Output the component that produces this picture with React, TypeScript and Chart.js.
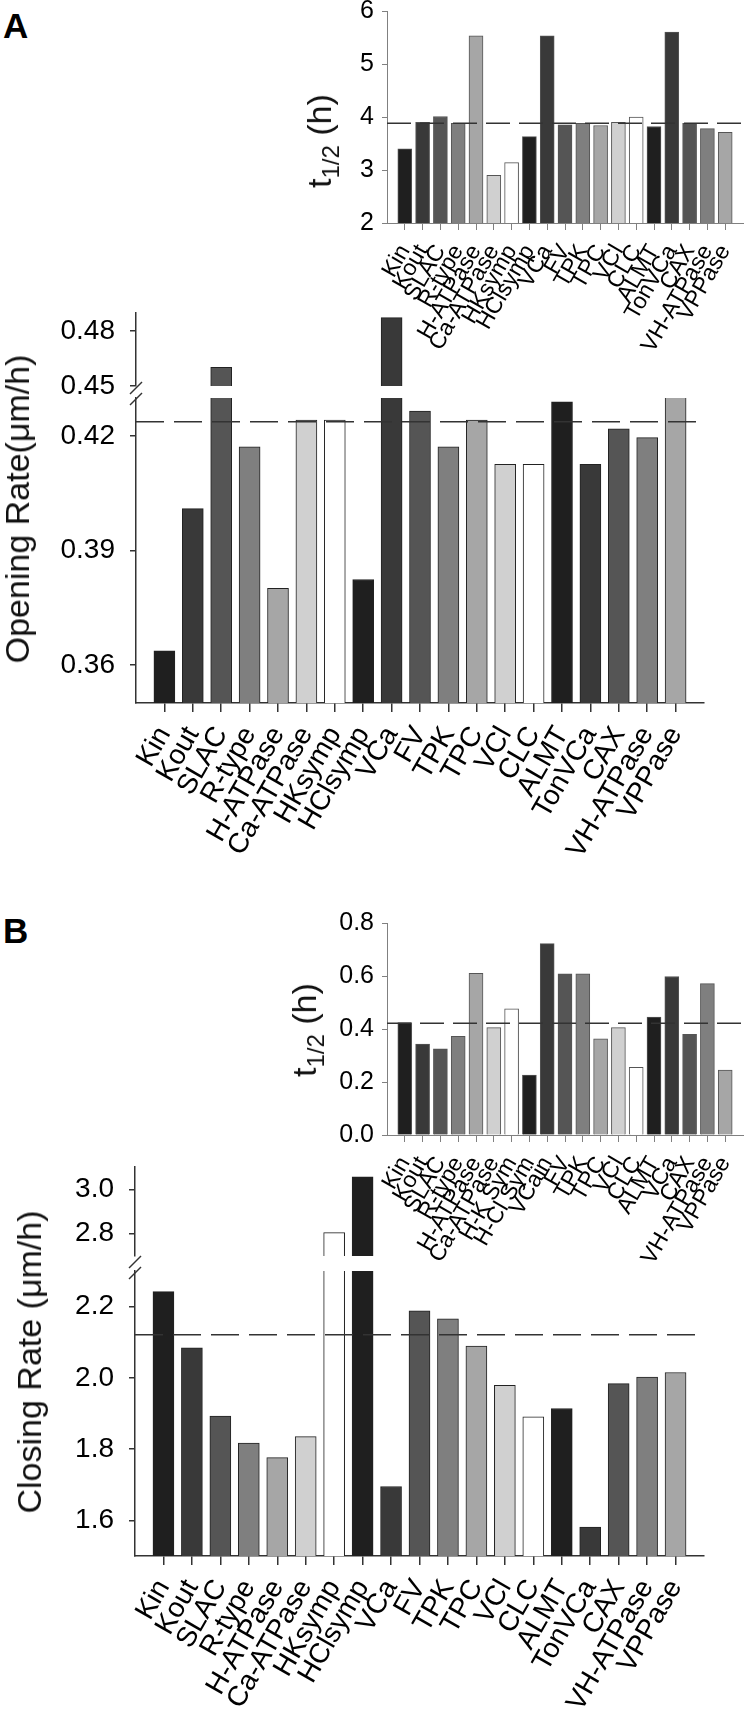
import React, { useEffect, useRef } from 'react';
import { Chart, registerables } from 'chart.js';

Chart.register(...registerables);

const FONT = "'Liberation Sans', Arial, Helvetica, sans-serif";

// ---------- data ----------
const channelLabels = ['Kin', 'Kout', 'SLAC', 'R-type', 'H-ATPase', 'Ca-ATPase', 'HKsymp', 'HClsymp', 'VCa', 'FV', 'TPK', 'TPC', 'VCl', 'CLC', 'ALMT', 'TonVCa', 'CAX', 'VH-ATPase', 'VPPase'];
const closingInsetLabels = ['Kin', 'Kout', 'SLAC', 'R-type', 'H-ATPase', 'Ca-ATPase', 'H-K Sym', 'H-Cl Sym', 'VCain', 'FV', 'TPK', 'TPC', 'VCl', 'CLC', 'ALMT', 'VCa', 'CAX', 'VH-ATPase', 'VPPase'];

const openingHalfTime = [3.40, 3.90, 4.01, 3.88, 5.53, 2.90, 3.14, 3.63, 5.53, 3.85, 3.88, 3.84, 3.90, 4.00, 3.82, 5.60, 3.88, 3.78, 3.71];
const openingHalfTimeMean = 3.88;
const openingHalfTimeTicks = [2, 3, 4, 5, 6];

const openingRate = [0.3637, 0.401, 0.4602, 0.4172, 0.3801, 0.4242, 0.4242, 0.3824, 0.4873, 0.4266, 0.4172, 0.4242, 0.4126, 0.4126, 0.429, 0.4126, 0.4219, 0.4196, 0.436];
const openingRateMean = 0.4238;
const openingRateUpperTicks = [0.45, 0.48];
const openingRateLowerTicks = [0.36, 0.39, 0.42];

const closingHalfTime = [0.424, 0.343, 0.325, 0.372, 0.61, 0.405, 0.476, 0.226, 0.722, 0.608, 0.608, 0.363, 0.405, 0.255, 0.445, 0.598, 0.38, 0.571, 0.245];
const closingHalfTimeMean = 0.422;
const closingHalfTimeTicks = [0, 0.2, 0.4, 0.6, 0.8];

const closingRate = [2.242, 2.084, 1.893, 1.817, 1.776, 1.835, 2.805, 3.056, 1.695, 2.188, 2.166, 2.089, 1.979, 1.891, 1.914, 1.581, 1.984, 2.002, 2.015];
const closingRateMean = 2.121;
const closingRateUpperTicks = [2.8, 3.0];
const closingRateLowerTicks = [1.6, 1.8, 2.0, 2.2];

const barShades = ['#1f1f1f', '#393939', '#555555', '#7f7f7f', '#a6a6a6', '#d0d0d0', '#ffffff'];

// ---------- plugins ----------
const meanLine = {
  id: 'meanLine',
  afterDatasetsDraw(chart: any, _a: any, opts: any) {
    if (opts == null || opts.value == null) return;
    const y = chart.scales.y.getPixelForValue(opts.value);
    const a = chart.chartArea;
    if (y < a.top || y > a.bottom) return;
    const ctx = chart.ctx;
    ctx.save();
    ctx.setLineDash(opts.dash || [20, 10]);
    ctx.strokeStyle = opts.color || '#333';
    ctx.lineWidth = opts.width || 1.5;
    ctx.beginPath();
    ctx.moveTo(a.left, y);
    ctx.lineTo(a.right - (opts.endInset || 0), y);
    ctx.stroke();
    ctx.restore();
  },
};

const axisBreak = {
  id: 'axisBreak',
  afterDraw(chart: any, _a: any, opts: any) {
    if (!opts || !opts.edge) return;
    const a = chart.chartArea;
    const cy = (opts.edge === 'bottom' ? a.bottom : a.top) + (opts.offset || 0);
    const ctx = chart.ctx;
    ctx.save();
    ctx.strokeStyle = opts.color || '#333';
    ctx.lineWidth = opts.width || 1.5;
    ctx.beginPath();
    ctx.moveTo(a.left - 6, cy + 6);
    ctx.lineTo(a.left + 6, cy - 6);
    ctx.stroke();
    ctx.restore();
  },
};

type Spec = {
  labels: string[];
  values: number[];
  mean?: number;
  min: number;
  max: number;
  ticks: number[];
  decimals: number;
  padTop: number;
  padRight: number;
  padBottom: number;
  yWidth: number;
  xHeight: number;
  showX: boolean;
  barThickness: number;
  barBorder: string;
  axisColor: string;
  axisWidth: number;
  yFont: number;
  xFont: number;
  yTickLen: number;
  yTickPad: number;
  xTickLen: number;
  xTickPad: number;
  dash: number[];
  dashWidth: number;
  dashEndInset: number;
  breakEdge?: 'top' | 'bottom';
  breakOffset?: number;
};

function makeChart(canvas: HTMLCanvasElement, s: Spec) {
  const n = s.labels.length;
  const labels = ['', ...s.labels, ''];
  const data = [null, ...s.values, null];
  const fills = labels.map((_, i) => (i === 0 || i === n + 1 ? 'rgba(0,0,0,0)' : barShades[(i - 1) % barShades.length]));
  const hideEnds = (c: any) => (c.index === 0 || c.index === n + 1 ? 'rgba(0,0,0,0)' : s.axisColor);
  return new Chart(canvas, {
    type: 'bar',
    data: {
      labels,
      datasets: [
        {
          data,
          backgroundColor: fills,
          borderColor: s.barBorder,
          borderWidth: 1,
          barThickness: s.barThickness,
          clip: 0,
        } as any,
      ],
    },
    options: {
      animation: false,
      responsive: false,
      devicePixelRatio: 1,
      events: [],
      layout: { padding: { left: 0, top: s.padTop, right: s.padRight, bottom: s.padBottom } },
      plugins: {
        legend: { display: false },
        tooltip: { enabled: false },
        meanLine: { value: s.mean, dash: s.dash, width: s.dashWidth, color: '#333', endInset: s.dashEndInset },
        axisBreak: { edge: s.breakEdge, offset: s.breakOffset, color: '#333', width: 1.5 },
      } as any,
      scales: {
        x: {
          type: 'category',
          display: s.showX,
          offset: false,
          grid: {
            offset: false,
            drawOnChartArea: false,
            drawTicks: true,
            tickLength: s.xTickLen,
            color: hideEnds,
            tickColor: hideEnds,
            lineWidth: s.axisWidth,
          },
          border: { display: true, color: s.axisColor, width: s.axisWidth },
          ticks: {
            autoSkip: false,
            maxRotation: 60,
            minRotation: 60,
            padding: s.xTickPad,
            color: '#000',
            font: { family: FONT, size: s.xFont },
          },
          afterFit: (sc: any) => {
            if (s.showX) sc.height = s.xHeight;
            sc.paddingLeft = 0;
            sc.paddingRight = 0;
          },
        },
        y: {
          type: 'linear',
          min: s.min,
          max: s.max,
          grid: {
            drawOnChartArea: false,
            drawTicks: true,
            tickLength: s.yTickLen,
            color: s.axisColor,
            lineWidth: s.axisWidth,
          },
          border: { display: true, color: s.axisColor, width: s.axisWidth },
          ticks: {
            padding: s.yTickPad,
            color: '#000',
            font: { family: FONT, size: s.yFont },
            callback: (v: any) => Number(v).toFixed(s.decimals),
          },
          afterBuildTicks: (sc: any) => {
            sc.ticks = s.ticks.map((v) => ({ value: v }));
          },
          afterFit: (sc: any) => {
            sc.width = s.yWidth;
            sc.paddingTop = 0;
            sc.paddingBottom = 0;
          },
        },
      },
    } as any,
    plugins: [meanLine, axisBreak],
  });
}

const insetBase = {
  decimals: 0,
  padRight: 4,
  padBottom: 0,
  yWidth: 87,
  showX: true,
  barThickness: 14,
  barBorder: '#555',
  axisColor: '#808080',
  axisWidth: 1,
  yFont: 25,
  xFont: 23,
  yTickLen: 5,
  yTickPad: 8,
  xTickLen: 7,
  xTickPad: 10,
  dash: [24, 9],
  dashWidth: 1.5,
  dashEndInset: 0,
};

const mainBase = {
  padRight: 43,
  barThickness: 21,
  barBorder: '#222',
  axisColor: '#333',
  axisWidth: 1.5,
  yFont: 28,
  xFont: 28,
  yTickLen: 6,
  yTickPad: 15,
  xTickLen: 9,
  xTickPad: 9,
  dash: [28, 10],
  dashWidth: 1.5,
  dashEndInset: 4,
};

type Placed = { left: number; top: number; width: number; height: number; spec: Spec };

const panels: Placed[] = [
  {
    left: 300, top: 0, width: 447, height: 380,
    spec: { ...insetBase, labels: channelLabels, values: openingHalfTime, mean: openingHalfTimeMean, min: 2, max: 6, ticks: openingHalfTimeTicks, padTop: 11, xHeight: 157 },
  },
  {
    left: 0, top: 290, width: 747, height: 120,
    spec: { ...mainBase, labels: channelLabels, values: openingRate, mean: openingRateMean, min: 0.45, max: 0.4898, ticks: openingRateUpperTicks, decimals: 2, padTop: 23, padBottom: 24, yWidth: 136, xHeight: 0, showX: false, breakEdge: 'bottom', breakOffset: 2 },
  },
  {
    left: 0, top: 380, width: 747, height: 500,
    spec: { ...mainBase, labels: channelLabels, values: openingRate, mean: openingRateMean, min: 0.35, max: 0.43, ticks: openingRateLowerTicks, decimals: 2, padTop: 18, padBottom: 0, yWidth: 136, xHeight: 177, showX: true, breakEdge: 'top', breakOffset: 1 },
  },
  {
    left: 300, top: 900, width: 447, height: 380,
    spec: { ...insetBase, labels: closingInsetLabels, values: closingHalfTime, mean: closingHalfTimeMean, min: 0, max: 0.8, ticks: closingHalfTimeTicks, decimals: 1, padTop: 23, xHeight: 145 },
  },
  {
    left: 0, top: 1140, width: 747, height: 140,
    spec: { ...mainBase, labels: channelLabels, values: closingRate, mean: closingRateMean, min: 2.7, max: 3.1, ticks: closingRateUpperTicks, decimals: 1, padTop: 27, padBottom: 24, yWidth: 135, xHeight: 0, showX: false, breakEdge: 'bottom', breakOffset: 6 },
  },
  {
    left: 0, top: 1260, width: 747, height: 461,
    spec: { ...mainBase, labels: channelLabels, values: closingRate, mean: closingRateMean, min: 1.5, max: 2.3, ticks: closingRateLowerTicks, decimals: 1, padTop: 11, padBottom: 0, yWidth: 135, xHeight: 165, showX: true, breakEdge: 'top', breakOffset: 2 },
  },
];

const rotatedStyle = (cx: number, cy: number, size: number): React.CSSProperties => ({
  position: 'absolute',
  left: cx,
  top: cy,
  transform: 'translate(-50%, -50%) rotate(-90deg)',
  fontFamily: FONT,
  fontSize: size,
  lineHeight: `${size}px`,
  whiteSpace: 'nowrap',
  color: '#111',
});

const letterStyle = (top: number): React.CSSProperties => ({
  position: 'absolute',
  left: 3,
  top,
  fontFamily: FONT,
  fontWeight: 'bold',
  fontSize: 35,
  lineHeight: '35px',
  color: '#000',
});

export default function App() {
  const refs = useRef<(HTMLCanvasElement | null)[]>([]);

  useEffect(() => {
    const charts = panels.map((p, i) => makeChart(refs.current[i] as HTMLCanvasElement, p.spec));
    return () => charts.forEach((c) => c.destroy());
  }, []);

  const sub = (txt: string) => (
    <span style={{ fontSize: 24, position: 'relative', top: 8 }}>{txt}</span>
  );

  return (
    <div style={{ position: 'absolute', left: 0, top: 0, width: 747, height: 1721, background: '#fff', overflow: 'hidden' }}>
      {panels.map((p, i) => (
        <canvas
          key={i}
          ref={(el) => { refs.current[i] = el; }}
          width={p.width}
          height={p.height}
          style={{ position: 'absolute', left: p.left, top: p.top, width: p.width, height: p.height }}
        />
      ))}
      <div style={letterStyle(8)}>A</div>
      <div style={letterStyle(913)}>B</div>
      <div style={rotatedStyle(321, 141, 34)}>t{sub('1/2')} (h)</div>
      <div style={rotatedStyle(306, 1030, 34)}>t{sub('1/2')} (h)</div>
      <div style={rotatedStyle(17, 509, 34)}>Opening Rate(μm/h)</div>
      <div style={rotatedStyle(29, 1362, 34)}>Closing Rate (μm/h)</div>
    </div>
  );
}
